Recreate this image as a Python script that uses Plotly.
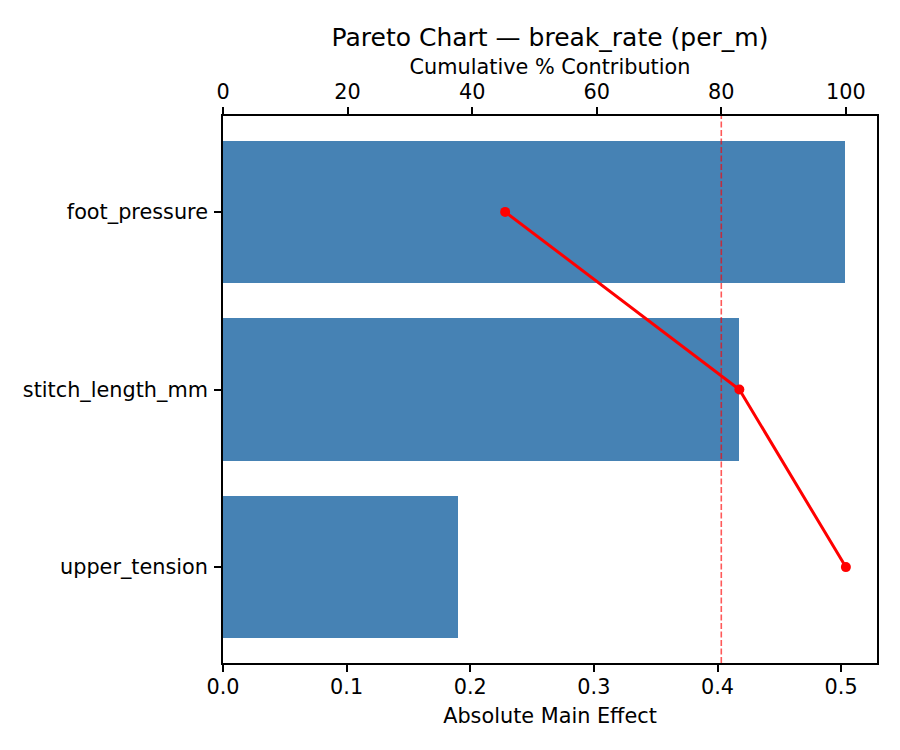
import plotly.graph_objects as go

# values
factors = ["foot_pressure", "stitch_length_mm", "upper_tension"]
main_effects = [0.503, 0.417, 0.190]
cumulative_pct = [45.3, 82.9, 100.0]
threshold_pct = 80

font_family = "DejaVu Sans"
label_size = 20.8   # 10pt at 150 dpi
title_size = 25     # 12pt at 150 dpi

fig = go.Figure()

fig.add_trace(go.Bar(
  x=main_effects,
  y=factors,
  orientation="h",
  width=0.8,
  marker=dict(color="#4682B4", line=dict(width=0)),
  showlegend=False,
))

fig.add_trace(go.Scatter(
  x=cumulative_pct,
  y=factors,
  xaxis="x2",
  mode="lines+markers",
  line=dict(color="red", width=3),
  marker=dict(color="red", size=10),
  showlegend=False,
))

# 80% reference line on the cumulative axis
fig.add_shape(
  type="line",
  xref="x2", yref="paper",
  x0=threshold_pct, x1=threshold_pct, y0=0, y1=1,
  line=dict(color="rgba(255,0,0,0.65)", width=1.6, dash="6px,2.5px"),
  layer="above",
)

axis_common = dict(
  showline=True, linecolor="black", linewidth=1.7,
  ticks="outside", ticklen=7, tickwidth=1.5, tickcolor="black",
  showgrid=False, zeroline=False,
  tickfont=dict(size=label_size, color="black"),
)

fig.update_layout(
  width=900, height=750,
  margin=dict(l=215, r=31, t=108, b=95),
  plot_bgcolor="white", paper_bgcolor="white",
  font=dict(family=font_family, color="black"),
  title=dict(
    text="Pareto Chart — break_rate (per_m)",
    x=542 / 900, xanchor="center",
    y=1 - 29 / 750, yanchor="middle",
    font=dict(size=title_size),
  ),
  xaxis=dict(
    range=[0, 0.529], dtick=0.1, tickformat=".1f",
    mirror=True, ticklabelstandoff=-3,
    title=dict(text="Absolute Main Effect", font=dict(size=label_size), standoff=11),
    **axis_common,
  ),
  xaxis2=dict(
    range=[0, 105], dtick=20,
    overlaying="x", side="top", anchor="y",
    title=dict(text="Cumulative % Contribution", font=dict(size=label_size), standoff=0),
    **axis_common,
  ),
  yaxis=dict(
    type="category",
    categoryorder="array", categoryarray=factors,
    range=[2.54, -0.54],
    mirror=True, ticklabelstandoff=2,
    **axis_common,
  ),
  bargap=0,
)

fig.write_html("out.html")
